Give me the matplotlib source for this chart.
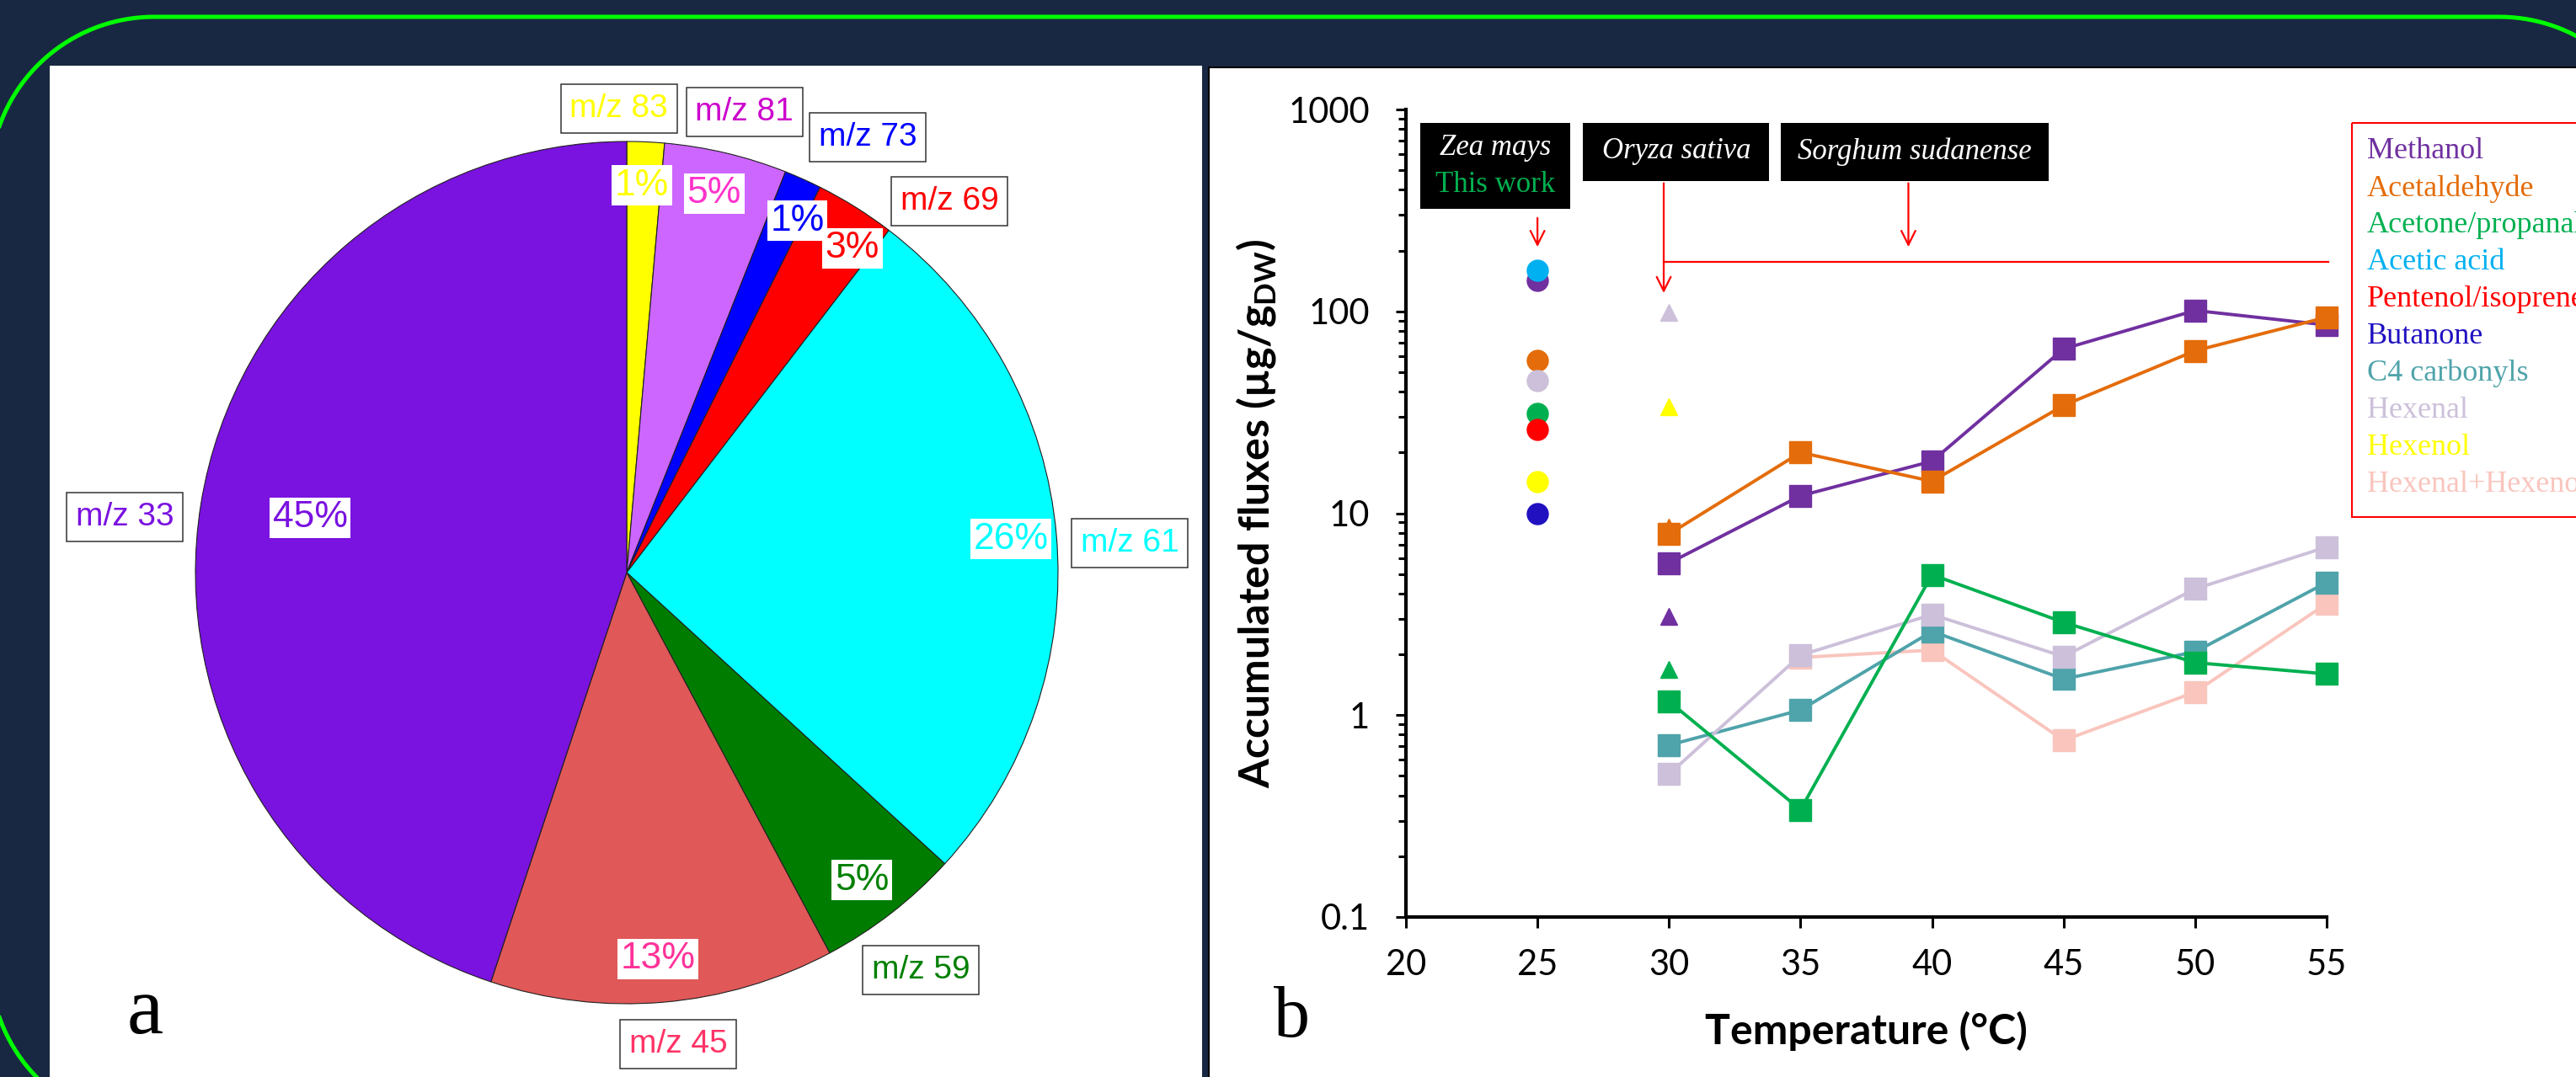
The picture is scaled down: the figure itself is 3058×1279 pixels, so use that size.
import numpy as np
import matplotlib.pyplot as plt
from matplotlib.patches import Rectangle
from matplotlib.ticker import FixedLocator, LogLocator, FuncFormatter, NullFormatter

# ---- panel a : share of each ion in the total emission (%)
ions = ['m/z 83', 'm/z 81', 'm/z 73', 'm/z 69', 'm/z 61', 'm/z 59', 'm/z 45', 'm/z 33']
shares = [1.4, 4.6, 1.4, 3.0, 26.4, 5.4, 12.9, 44.9]

# ---- panel b : accumulated fluxes (ug/gDW) vs temperature
temps = [30, 35, 40, 45, 50, 55]
methanol = [5.66, 12.2, 18.1, 65.2, 101, 85.6]
acetaldehyde = [7.88, 20.0, 14.4, 34.2, 63.8, 93.5]
acetone = [1.17, 0.34, 4.96, 2.88, 1.82, 1.60]
c4_carbonyls = [0.71, 1.06, 2.60, 1.51, 2.06, 4.54]
hexenal = [0.51, 1.98, 3.15, 1.95, 4.22, 6.80]
hexmix_temps = [35, 40, 45, 50, 55]
hexenal_hexenol = [1.93, 2.10, 0.75, 1.30, 3.57]

# Zea mays, 25 °C (circles)
zea_temp = 25
zea_names = ['Methanol', 'Acetic acid', 'Acetaldehyde', 'Hexenal', 'Acetone/propanal',
             'Pentenol/isoprene', 'Hexenol', 'Butanone']
zea_vals = [143, 160, 57.1, 45.2, 31.1, 26.1, 14.4, 9.96]

# Oryza sativa, 30 °C (triangles)
oryza_temp = 30
oryza_names = ['Acetaldehyde', 'Hexenal', 'Hexenol', 'Methanol', 'Acetone/propanal']
oryza_vals = [8.5, 99, 33.7, 3.08, 1.69]

legend_names = ['Methanol', 'Acetaldehyde', 'Acetone/propanal', 'Acetic acid', 'Pentenol/isoprene',
                'Butanone', 'C4 carbonyls', 'Hexenal', 'Hexenol', 'Hexenal+Hexenol']
colors = {'Methanol': '#7030a0', 'Acetaldehyde': '#e46c0a', 'Acetone/propanal': '#00b050',
          'Acetic acid': '#00b0f0', 'Pentenol/isoprene': '#ff0000', 'Butanone': '#2010c0',
          'C4 carbonyls': '#4fa3aa', 'Hexenal': '#ccc0da', 'Hexenol': '#ffff00',
          'Hexenal+Hexenol': '#f9c5bd'}

# pie styling
wedge_colors = ['#ffff00', '#cc66ff', '#0000ff', '#ff0000', '#00ffff', '#007d00', '#e05858', '#7a12e0']
label_colors = ['#ffff00', '#cc00cc', '#0000ff', '#ff0000', '#00ffff', '#008000', '#ff3366', '#7a12e0']
pct_colors = ['#ffff00', '#ff33cc', '#0000ff', '#ff0000', '#00ffff', '#008000', '#ff3399', '#7a12e0']
label_pos = [(-0.018, 1.076), (0.273, 1.068), (0.559, 1.010), (0.748, 0.861),
             (1.166, 0.068), (0.682, -0.922), (0.119, -1.094), (-1.164, 0.129)]
pct_pos = [(0.035, 0.898), (0.203, 0.879), (0.396, 0.816), (0.523, 0.752),
           (0.891, 0.078), (0.545, -0.713), (0.072, -0.896), (-0.734, 0.127)]

W, H = 3058, 1279
plt.rcParams['mathtext.fontset'] = 'custom'
plt.rcParams['mathtext.rm'] = 'Lato'
plt.rcParams['mathtext.bf'] = 'Lato:bold'
fig = plt.figure(figsize=(W / 100, H / 100), dpi=100)
fig.patch.set_facecolor('#192842')

# background layer in pixel units
bg = fig.add_axes([0, 0, 1, 1])
bg.set_xlim(0, W)
bg.set_ylim(H, 0)
bg.axis('off')

# green rounded frame (circular corners)
x0, y0, x1, y1, rr = -12, 20, 3162, 1338, 195
a = np.linspace(0, np.pi / 2, 40)
fx = np.concatenate([x0 + rr - rr * np.sin(a[::-1]), x1 - rr + rr * np.sin(a),
                     x1 - rr + rr * np.cos(a), x0 + rr - rr * np.cos(a[::-1]), [x0]])
fy = np.concatenate([y0 + rr - rr * np.cos(a[::-1]), y0 + rr - rr * np.cos(a),
                     y1 - rr + rr * np.sin(a), y1 - rr + rr * np.sin(a[::-1]), [y0 + rr]])
bg.plot(fx, fy, color='#00ff00', linewidth=3.6, solid_capstyle='round')

bg.add_patch(Rectangle((59, 78), 1368, 1230, facecolor='white', edgecolor='none'))
bg.add_patch(Rectangle((1435, 80), 1700, 1230, facecolor='white', edgecolor='black', linewidth=1.5))

bg.text(172, 1227, 'a', family='Liberation Serif', fontsize=70, ha='center', va='baseline')
bg.text(1534, 1231, 'b', family='Liberation Serif', fontsize=62, ha='center', va='baseline')

# species boxes above panel b
for bx0, bx1, by0, by1 in [(1686, 1864, 146, 248), (1879, 2100, 146, 215), (2114, 2432, 146, 215)]:
    bg.add_patch(Rectangle((bx0, by0), bx1 - bx0, by1 - by0, facecolor='black', edgecolor='none'))
tfont = dict(family='Liberation Serif', style='italic', fontsize=25, ha='center', va='center')
bg.text(1775, 176, 'Zea mays', color='white', **tfont)
bg.text(1775, 219, 'This work', color='#00b050', family='Liberation Serif', fontsize=25,
        ha='center', va='center')
bg.text(1990, 180, 'Oryza sativa', color='white', **tfont)
bg.text(2273, 180, 'Sorghum sudanense', color='white', **tfont)

# legend (coloured names in a red frame, running off the right edge as in the original)
bg.add_patch(Rectangle((2792, 146), 400, 468, facecolor='none', edgecolor='red', linewidth=1.5))
for i, name in enumerate(legend_names):
    bg.text(2810, 180 + i * 43.9, name, color=colors[name], family='Liberation Serif',
            fontsize=26, ha='left', va='center')

# ---- panel a : pie
R = 512
S = 650
ax1 = fig.add_axes([(744 - S) / W, (H - 680 - S) / H, 2 * S / W, 2 * S / H])
wedges, texts, autotexts = ax1.pie(
    shares, labels=ions, colors=wedge_colors, startangle=90, counterclock=False,
    autopct=lambda p: f'{p:.0f}%', wedgeprops=dict(edgecolor='#202020', linewidth=0.8))
ax1.set_xlim(-S / R, S / R)
ax1.set_ylim(-S / R, S / R)
ax1.set_aspect('equal')
ax1.axis('off')
for t, c, pos in zip(texts, label_colors, label_pos):
    t.set_position(pos)
    t.set(color=c, family='Liberation Sans', fontsize=28, ha='center', va='center')
    t.set_bbox(dict(boxstyle='square,pad=0.28', facecolor='white', edgecolor='#333333', linewidth=1.1))
for t, c, pos in zip(autotexts, pct_colors, pct_pos):
    t.set_position(pos)
    t.set(color=c, family='Liberation Sans', fontsize=32, ha='center', va='center')
    t.set_bbox(dict(boxstyle='square,pad=0.08', facecolor='white', edgecolor='none'))

# ---- panel b : fluxes
ax2 = fig.add_axes([1669 / W, (H - 1089) / H, 1093 / W, 959 / H])
ax2.set_facecolor('none')
ax2.set_yscale('log')

for name, v in zip(zea_names, zea_vals):
    ax2.plot(zea_temp, v, 'o', color=colors[name], markersize=18, clip_on=False, zorder=2)
for name, v in zip(oryza_names, oryza_vals):
    ax2.plot(oryza_temp, v, '^', color=colors[name], markersize=15, clip_on=False, zorder=2)

series = [('Hexenal+Hexenol', hexmix_temps, hexenal_hexenol), ('C4 carbonyls', temps, c4_carbonyls),
          ('Hexenal', temps, hexenal), ('Acetone/propanal', temps, acetone),
          ('Methanol', temps, methanol), ('Acetaldehyde', temps, acetaldehyde)]
for name, x, y in series:
    ax2.plot(x, y, '-s', color=colors[name], linewidth=2.8, markersize=18.5, clip_on=False, zorder=3)

# red arrows pointing at the literature data
red = dict(arrowstyle='->', color='red', lw=1.6, mutation_scale=30)
ax2.annotate('', xy=(25, 203), xytext=(25, 298), arrowprops=red)
ax2.annotate('', xy=(29.8, 120), xytext=(29.8, 443), arrowprops=red)
ax2.annotate('', xy=(39.1, 203), xytext=(39.1, 443), arrowprops=red)
ax2.plot([29.8, 55.05], [176, 176], color='red', linewidth=1.6, clip_on=False)

ax2.set_xlim(20, 55)
ax2.set_ylim(0.1, 1000)
ax2.xaxis.set_major_locator(FixedLocator([20, 25, 30, 35, 40, 45, 50, 55]))
ax2.yaxis.set_major_locator(FixedLocator([0.1, 1, 10, 100, 1000]))
ax2.yaxis.set_minor_locator(LogLocator(base=10, subs=range(2, 10)))
ax2.yaxis.set_minor_formatter(NullFormatter())
ax2.yaxis.set_major_formatter(FuncFormatter(lambda v, p: f'{v:g}'))
for side in ['top', 'right']:
    ax2.spines[side].set_visible(False)
for side in ['left', 'bottom']:
    ax2.spines[side].set_linewidth(3)
ax2.tick_params(which='major', length=9, width=2.2, labelsize=30)
ax2.tick_params(which='minor', length=6.5, width=2.2)
ax2.tick_params(axis='y', which='major', pad=22)
ax2.tick_params(axis='x', which='major', pad=18)
for lbl in ax2.get_xticklabels() + ax2.get_yticklabels():
    lbl.set_family('Lato')
ax2.set_xlabel('Temperature (°C)', family='Lato', fontweight='bold', fontsize=36, labelpad=26)
ax2.set_ylabel(r'Accumulated fluxes (µg/g$_{\mathbf{DW}}$)', family='Lato', fontweight='bold',
               fontsize=36)
ax2.yaxis.set_label_coords(-0.139, 0.5)

fig.savefig('out.png', dpi=100, facecolor=fig.get_facecolor())
